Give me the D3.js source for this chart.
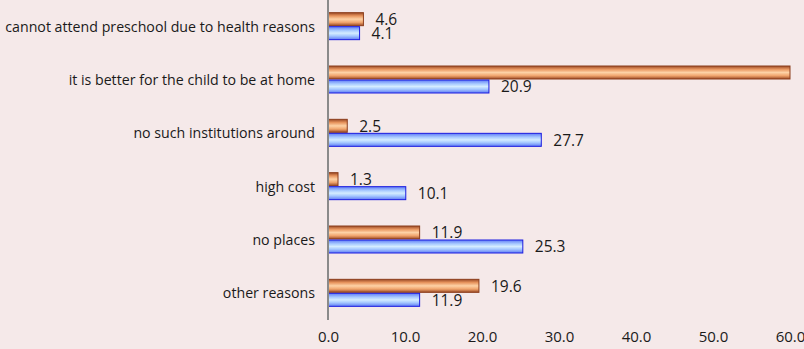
<!doctype html>
<html lang="en">
<head>
<meta charset="utf-8">
<title>Reasons for not attending preschool</title>
<script src="https://d3js.org/d3.v7.min.js"></script>
<style>
  body { margin: 0; background: #f5e9e9; }
  svg { display: block; font-family: "Open Sans", sans-serif; }
</style>
</head>
<body>
<div id="chart"></div>
<script>
// data
var categories = [
  "cannot attend preschool due to health reasons",
  "it is better for the child to be at home",
  "no such institutions around",
  "high cost",
  "no places",
  "other reasons"
];
var seriesKeys = ["orange", "blue"];
var orangeValues = [4.6, 60.0, 2.5, 1.3, 11.9, 19.6];
var blueValues = [4.1, 20.9, 27.7, 10.1, 25.3, 11.9];
var xTicks = [0, 10, 20, 30, 40, 50, 60];

var W = 804, H = 349;
var left = 328, right = 790, plotTop = 0, plotBottom = 320;

var rows = categories.map(function (c, i) {
  return { cat: c, orange: orangeValues[i], blue: blueValues[i] };
});

var x = d3.scaleLinear().domain([0, 60]).range([left, right]);
var y = d3.scaleBand().domain(categories).range([plotTop, plotBottom]);
var sub = d3.scaleBand().domain(seriesKeys).range([-14, 14]);

var svg = d3.select("#chart").append("svg")
  .attr("width", W).attr("height", H);

var defs = svg.append("defs");
var og = defs.append("linearGradient").attr("id", "gOrange")
  .attr("x1", 0).attr("y1", 0).attr("x2", 0).attr("y2", 1);
[["0%", "#9a4a26"], ["25%", "#e8955e"], ["50%", "#fdd2a6"], ["75%", "#f0a46c"], ["100%", "#9a4a26"]]
  .forEach(function (s) { og.append("stop").attr("offset", s[0]).attr("stop-color", s[1]); });
var bg = defs.append("linearGradient").attr("id", "gBlue")
  .attr("x1", 0).attr("y1", 0).attr("x2", 0).attr("y2", 1);
[["0%", "#5f7cf5"], ["30%", "#a9cbff"], ["50%", "#d4ecff"], ["70%", "#a9cbff"], ["100%", "#5f7cf5"]]
  .forEach(function (s) { bg.append("stop").attr("offset", s[0]).attr("stop-color", s[1]); });

var style = {
  orange: { fill: "url(#gOrange)", stroke: "#8c3e1c" },
  blue: { fill: "url(#gBlue)", stroke: "#1c1ce0" }
};

// bars
var g = svg.selectAll("g.row").data(rows).enter().append("g")
  .attr("class", "row")
  .attr("transform", function (d) { return "translate(0," + (y(d.cat) + y.bandwidth() / 2) + ")"; });

seriesKeys.forEach(function (k) {
  g.append("rect")
    .attr("x", x(0))
    .attr("y", sub(k))
    .attr("width", function (d) { return x(d[k]) - x(0); })
    .attr("height", sub.bandwidth() - 1)
    .attr("fill", style[k].fill)
    .attr("stroke", style[k].stroke)
    .attr("stroke-width", 1);

  // labels that would fall past the plot edge are clipped away (as in the original)
  g.filter(function (d) { return x(d[k]) + 12 < right; })
    .append("text")
    .attr("x", function (d) { return x(d[k]) + 12; })
    .attr("y", sub(k) + sub.bandwidth() / 2)
    .attr("dy", "0.35em")
    .attr("font-size", 15.5)
    .attr("fill", "#1a1a1a")
    .text(function (d) { return d3.format(".1f")(d[k]); });
});

// category labels
svg.append("g").selectAll("text").data(categories).enter().append("text")
  .attr("x", 315)
  .attr("y", function (d) { return y(d) + y.bandwidth() / 2; })
  .attr("dy", "0.35em")
  .attr("text-anchor", "end")
  .attr("font-size", 14.2)
  .attr("fill", "#1a1a1a")
  .text(function (d) { return d; });

// vertical axis line
svg.append("line")
  .attr("x1", x(0)).attr("x2", x(0))
  .attr("y1", plotTop).attr("y2", plotBottom)
  .attr("stroke", "#8a8a8a").attr("stroke-width", 2);

// x axis labels
var ax = svg.append("g")
  .attr("transform", "translate(0," + 328 + ")")
  .call(d3.axisBottom(x).tickValues(xTicks).tickSize(0).tickFormat(d3.format(".1f")));
ax.select(".domain").remove();
ax.selectAll("text")
  .attr("font-size", 15)
  .attr("font-family", "\"Open Sans\", sans-serif")
  .attr("fill", "#1a1a1a");
</script>
</body>
</html>
